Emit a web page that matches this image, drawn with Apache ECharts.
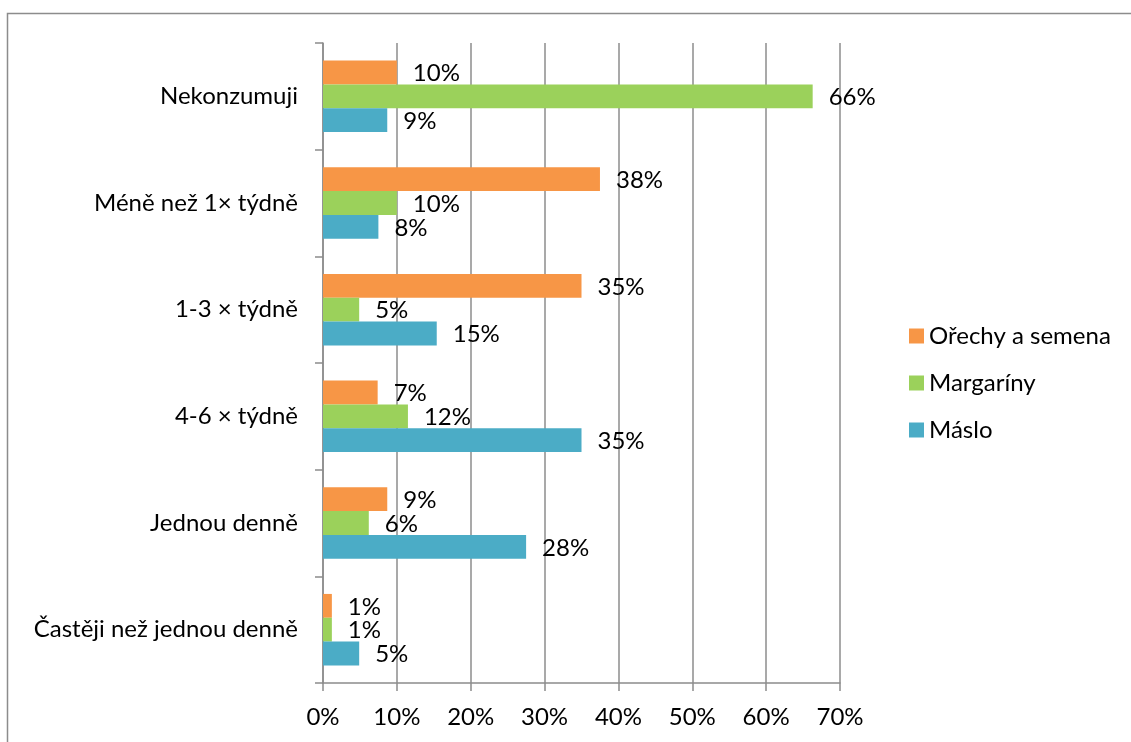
<!DOCTYPE html>
<html>
<head>
<meta charset="utf-8">
<script src="https://cdn.jsdelivr.net/npm/echarts@6/dist/echarts.min.js"></script>
<style>
  html, body { margin: 0; padding: 0; background: #ffffff; }
  #chart { width: 1131px; height: 742px; }
</style>
</head>
<body>
<div id="chart"></div>
<script>
// Frequency categories, listed top to bottom
const categories = [
  'Nekonzumuji',
  'Méně než 1× týdně',
  '1-3 × týdně',
  '4-6 × týdně',
  'Jednou denně',
  'Častěji než jednou denně'
];

const seriesNames = ['Ořechy a semena', 'Margaríny', 'Máslo'];

// Share of respondents (%) per category
const orechy    = [10.0, 37.5, 35.0, 7.4, 8.7, 1.2];
const margariny = [66.3, 10.0, 4.9, 11.5, 6.2, 1.2];
const maslo     = [8.7, 7.5, 15.4, 35.0, 27.5, 4.9];

const xTicks = [0, 10, 20, 30, 40, 50, 60, 70];

const colors = ['#F79646', '#9BD15B', '#4BACC6'];
const FONT = 'Lato, "Open Sans", sans-serif';
const FONT_SIZE = 24;
const GRID_COLOR = '#8c8c8c';

const chart = echarts.init(document.getElementById('chart'), null, { renderer: 'canvas' });

function barSeries(name, data, color) {
  return {
    name: name,
    type: 'bar',
    data: data,
    barGap: '0%',
    barCategoryGap: '33%',
    itemStyle: { color: color },
    label: {
      show: true,
      position: 'right',
      distance: 16,
      offset: [0, 1],
      color: '#000',
      fontFamily: FONT,
      fontSize: FONT_SIZE,
      formatter: p => Math.round(p.value) + '%'
    },
    emphasis: { disabled: true }
  };
}

chart.setOption({
  animation: false,
  backgroundColor: '#ffffff',
  textStyle: { fontFamily: FONT },
  graphic: [{
    type: 'rect',
    shape: { x: 7.5, y: 13.5, width: 1200, height: 800 },
    style: { fill: 'none', stroke: '#8c8c8c', lineWidth: 1.5 },
    silent: true,
    z: -10
  }],
  legend: {
    orient: 'vertical',
    left: 904,
    top: 319,
    itemWidth: 15,
    itemHeight: 15,
    itemGap: 23,
    icon: 'rect',
    data: seriesNames,
    textStyle: {
      fontFamily: FONT,
      fontSize: FONT_SIZE,
      lineHeight: 24,
      color: '#000',
      padding: [0, 0, 0, 0]
    },
    selectedMode: false
  },
  grid: {
    left: 323,
    top: 43,
    width: 517,
    height: 640,
    containLabel: false
  },
  xAxis: {
    type: 'value',
    min: xTicks[0],
    max: xTicks[xTicks.length - 1],
    interval: 10,
    axisLine: { show: true, lineStyle: { color: GRID_COLOR, width: 1.5 } },
    axisTick: { show: true, length: 8, lineStyle: { color: GRID_COLOR, width: 1.5 } },
    splitLine: { show: true, lineStyle: { color: GRID_COLOR, width: 1.5 } },
    axisLabel: {
      color: '#000',
      fontFamily: FONT,
      fontSize: FONT_SIZE,
      margin: 22,
      formatter: v => v + '%'
    }
  },
  yAxis: {
    type: 'category',
    data: categories,
    inverse: true,
    axisLine: { show: true, lineStyle: { color: GRID_COLOR, width: 1.5 } },
    axisTick: { show: true, length: 8, lineStyle: { color: GRID_COLOR, width: 1.5 } },
    axisLabel: {
      color: '#000',
      fontFamily: FONT,
      fontSize: FONT_SIZE,
      margin: 25
    }
  },
  series: [
    barSeries(seriesNames[0], orechy, colors[0]),
    barSeries(seriesNames[1], margariny, colors[1]),
    barSeries(seriesNames[2], maslo, colors[2])
  ]
});
</script>
</body>
</html>
